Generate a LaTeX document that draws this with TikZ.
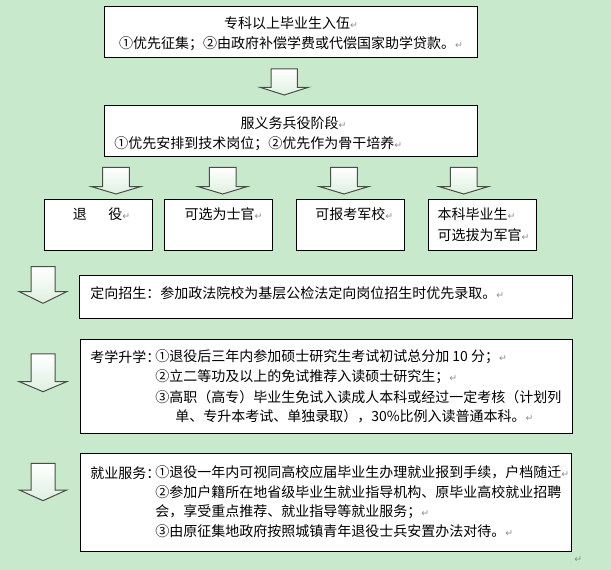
\documentclass[tikz,border=0pt]{standalone}
\usepackage{fontspec}
\newfontfamily\cjk{Noto Sans CJK SC}
\newfontfamily\symf{DejaVu Sans}
\newcommand\pmk{{\symf\fontsize{7pt}{7pt}\selectfont\textcolor[rgb]{0.55,0.55,0.55}{↵}}}
\begin{document}
\begin{tikzpicture}[x=0.75pt,y=0.75pt,yscale=-1,xscale=1,
    box/.style={draw=black, fill=white, line width=0.75pt},
    barrow/.style={draw={rgb, 255:red, 72; green, 78; blue, 72 }, line width=0.75pt, top color=white, bottom color={rgb, 255:red, 222; green, 240; blue, 224 }},
    txt/.style={anchor=west, inner sep=0.75pt, font=\cjk\fontsize{10.5pt}{12pt}\selectfont},
    ctxt/.style={txt, anchor=center}]
        %Shape: Background
        \fill  [color={rgb, 255:red, 201; green, 233; blue, 204 }] (0,0) rectangle (611,570) ;
        %Shape: Rectangle
        \draw  [box] (104,7) rectangle (477,58) ;
        %Shape: Rectangle
        \draw  [box] (104,106) rectangle (477,157) ;
        %Shape: Block Arrow
        \draw  [barrow] (271,69) -- (297.4,69) -- (297.4,87.3) -- (308.4,87.3) -- (284.2,95) -- (260,87.3) -- (271,87.3) -- cycle ;
        %Shape: Block Arrow
        \draw  [barrow] (102.7,167.3) -- (129.3,167.3) -- (129.3,186.7) -- (140.3,186.7) -- (116,194) -- (91.7,186.7) -- (102.7,186.7) -- cycle ;
        %Shape: Block Arrow
        \draw  [barrow] (209.4,167.3) -- (236,167.3) -- (236,186.7) -- (247,186.7) -- (222.7,194) -- (198.4,186.7) -- (209.4,186.7) -- cycle ;
        %Shape: Block Arrow
        \draw  [barrow] (330.7,167.3) -- (357.3,167.3) -- (357.3,186.7) -- (368.3,186.7) -- (344,194) -- (319.7,186.7) -- (330.7,186.7) -- cycle ;
        %Shape: Block Arrow
        \draw  [barrow] (450.4,167.3) -- (477,167.3) -- (477,186.7) -- (488,186.7) -- (463.7,194) -- (439.4,186.7) -- (450.4,186.7) -- cycle ;
        %Shape: Rectangle
        \draw  [box] (44.3,199.3) rectangle (152.7,251) ;
        %Shape: Rectangle
        \draw  [box] (164.3,199.3) rectangle (272.7,251) ;
        %Shape: Rectangle
        \draw  [box] (296,199.3) rectangle (404.3,251) ;
        %Shape: Rectangle
        \draw  [box] (428.3,199.3) rectangle (536.7,251) ;
        %Shape: Block Arrow
        \draw  [barrow] (31,266.7) -- (55,266.7) -- (55,291.7) -- (66.7,291.7) -- (43,303.3) -- (19.3,291.7) -- (31,291.7) -- cycle ;
        %Shape: Rectangle
        \draw  [box] (79.3,276) rectangle (572.7,318.3) ;
        %Shape: Block Arrow
        \draw  [barrow] (31,354) -- (55,354) -- (55,381.7) -- (66.7,381.7) -- (43,391.7) -- (19.3,381.7) -- (31,381.7) -- cycle ;
        %Shape: Rectangle
        \draw  [box] (80,339.3) rectangle (572.7,433.3) ;
        %Shape: Block Arrow
        \draw  [barrow] (31,463.3) -- (55,463.3) -- (55,490) -- (66.7,490) -- (43,500.7) -- (19.3,490) -- (31,490) -- cycle ;
        %Shape: Rectangle
        \draw  [box] (80,453.3) rectangle (571.7,551.7) ;

        % Text Node
        \draw (291,23.3) node [ctxt] (rw1) {专科以上毕业生入伍\pmk};
        % Text Node
        \draw (291,43.3) node [ctxt] (rw2) {①优先征集；②由政府补偿学费或代偿国家助学贷款。\pmk};
        % Text Node
        \draw (293.5,123.3) node [ctxt] (fy1) {服义务兵役阶段\pmk};
        % Text Node
        \draw (113,143.3) node [txt] (fy2) {①优先安排到技术岗位；②优先作为骨干培养\pmk};
        % Text Node
        \draw (71.7,213.8) node [txt] (ty) {退\hspace{16pt}役\pmk};
        % Text Node
        \draw (183.3,213.8) node [txt] (sg) {可选为士官\pmk};
        % Text Node
        \draw (314,213.8) node [txt] (jx) {可报考军校\pmk};
        % Text Node
        \draw (436.3,214.5) node [txt] (jg1) {本科毕业生\pmk};
        % Text Node
        \draw (436.3,235.5) node [txt] (jg2) {可选拔为军官\pmk};
        % Text Node
        \draw (89,293.3) node [txt] (dx) {定向招生：参加政法院校为基层公检法定向岗位招生时优先录取。\pmk};
        % Text Node
        \draw (89,356.7) node [txt] (kx1) {考学升学：};
        % Text Node
        \draw (154,356.7) node [txt] (kx2) {①退役后三年内参加硕士研究生考试初试总分加 10 分；\pmk};
        % Text Node
        \draw (154,376.7) node [txt] (kx3) {②立二等功及以上的免试推荐入读硕士研究生；\pmk};
        % Text Node
        \draw (154,396.7) node [txt] (kx4) {③高职（高专）毕业生免试入读成人本科或经过一定考核（计划列};
        % Text Node
        \draw (174,416.7) node [txt] (kx5) {单、专升本考试、单独录取），30\%比例入读普通本科。\pmk};
        % Text Node
        \draw (89,472.7) node [txt] (jy1) {就业服务：};
        % Text Node
        \draw (154,472.7) node [txt] (jy2) {①退役一年内可视同高校应届毕业生办理就业报到手续，户档随迁\pmk};
        % Text Node
        \draw (154,492) node [txt] (jy3) {②参加户籍所在地省级毕业生就业指导机构、原毕业高校就业招聘};
        % Text Node
        \draw (154,511.5) node [txt] (jy4) {会，享受重点推荐、就业指导等就业服务；\pmk};
        % Text Node
        \draw (154,531) node [txt] (jy5) {③由原征集地政府按照城镇青年退役士兵安置办法对待。\pmk};
        % Text Node
        \draw (573,560) node [txt] (pend) {\pmk};
\end{tikzpicture}
\end{document}
